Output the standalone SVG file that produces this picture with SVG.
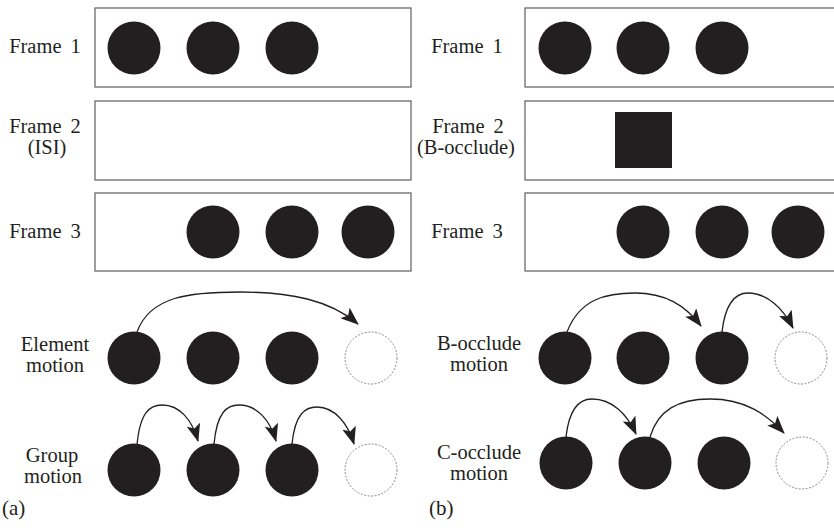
<svg xmlns="http://www.w3.org/2000/svg" width="834" height="532" viewBox="0 0 834 532">
<defs>
<style>
.frame{fill:#fff;stroke:#6a6a6a;stroke-width:1.3}
.dot{fill:#231f20}
.ghost{fill:none;stroke:#8a8a8a;stroke-width:1;stroke-dasharray:2 1.5}
.lbl{font-size:20.5px;fill:#231f20;text-anchor:middle}
.fl{word-spacing:4px}
.tag{font-size:21px;fill:#231f20}
.arc{fill:none;stroke:#231f20;stroke-width:1.3}
</style>
<marker id="ah" viewBox="0 0 18 14" refX="17" refY="7" markerWidth="18" markerHeight="14" markerUnits="userSpaceOnUse" orient="auto">
<path d="M0,0 L18,7 L0,14 L4,7 z" fill="#231f20"/>
</marker>
</defs>
<rect width="834" height="532" fill="#fff"/>
<g font-family="Liberation Serif, Times New Roman, serif">
<!-- Panel (a) -->
<g id="a-frame1">
<rect class="frame" x="95" y="8" width="316" height="79"/>
<circle class="dot" cx="134" cy="48" r="26.5"/>
<circle class="dot" cx="213" cy="48" r="26.5"/>
<circle class="dot" cx="292" cy="48" r="26.5"/>
<text class="lbl fl" x="45" y="53">Frame 1</text>
</g>
<g id="a-frame2">
<rect class="frame" x="95" y="101" width="316" height="79"/>
<text class="lbl fl" x="45" y="133">Frame 2</text>
<text class="lbl" x="47" y="154">(ISI)</text>
</g>
<g id="a-frame3">
<rect class="frame" x="95" y="193" width="316" height="78"/>
<circle class="dot" cx="213" cy="232" r="26.5"/>
<circle class="dot" cx="292" cy="232" r="26.5"/>
<circle class="dot" cx="368" cy="232" r="26.5"/>
<text class="lbl fl" x="45" y="238">Frame 3</text>
</g>
<g id="a-element">
<circle class="dot" cx="134" cy="358" r="26.5"/>
<circle class="dot" cx="213" cy="358" r="26.5"/>
<circle class="dot" cx="292" cy="358" r="26.5"/>
<circle class="ghost" cx="371" cy="358" r="26"/>
<text class="lbl" x="55" y="351">Element</text>
<text class="lbl" x="55" y="372">motion</text>
</g>
<g id="a-group">
<circle class="dot" cx="134" cy="470" r="26.5"/>
<circle class="dot" cx="213" cy="470" r="26.5"/>
<circle class="dot" cx="292" cy="470" r="26.5"/>
<circle class="ghost" cx="371" cy="470" r="26"/>
<text class="lbl" x="52" y="462">Group</text>
<text class="lbl" x="53" y="483">motion</text>
</g>
<text class="tag" x="2" y="515">(a)</text>

<!-- Panel (b) -->
<g id="b-frame1">
<rect class="frame" x="525" y="8" width="320" height="79"/>
<circle class="dot" cx="565" cy="48" r="26.5"/>
<circle class="dot" cx="643" cy="48" r="26.5"/>
<circle class="dot" cx="722" cy="48" r="26.5"/>
<text class="lbl fl" x="467" y="53">Frame 1</text>
</g>
<g id="b-frame2">
<rect class="frame" x="525" y="101" width="320" height="79"/>
<rect class="dot" x="615" y="112" width="57" height="56"/>
<text class="lbl fl" x="468" y="133">Frame 2</text>
<text class="lbl" x="466" y="154">(B-occlude)</text>
</g>
<g id="b-frame3">
<rect class="frame" x="525" y="193" width="320" height="78"/>
<circle class="dot" cx="643" cy="232" r="26.5"/>
<circle class="dot" cx="722" cy="232" r="26.5"/>
<circle class="dot" cx="798" cy="232" r="26.5"/>
<text class="lbl fl" x="467" y="238">Frame 3</text>
</g>
<g id="b-bocclude">
<circle class="dot" cx="565" cy="358" r="26.5"/>
<circle class="dot" cx="643" cy="358" r="26.5"/>
<circle class="dot" cx="722" cy="358" r="26.5"/>
<circle class="ghost" cx="801" cy="358" r="26"/>
<text class="lbl" x="479" y="350">B-occlude</text>
<text class="lbl" x="479" y="371">motion</text>
</g>
<g id="b-cocclude">
<circle class="dot" cx="566" cy="463" r="26.5"/>
<circle class="dot" cx="645" cy="463" r="26.5"/>
<circle class="dot" cx="724" cy="463" r="26.5"/>
<circle class="ghost" cx="802" cy="463" r="26"/>
<text class="lbl" x="479" y="459">C-occlude</text>
<text class="lbl" x="479" y="480">motion</text>
</g>
<text class="tag" x="429" y="515">(b)</text>
</g>
<g id="connectors">
<path class="arc" marker-end="url(#ah)" d="M137,332 C150,296 190,292 240,292 C290,292 330,300 358,324"/>
<path class="arc" marker-end="url(#ah)" d="M137,445 C140,412 150,405 162,405 C180,405 192,420 198,441"/>
<path class="arc" marker-end="url(#ah)" d="M214,444 C217,412 227,405 239,405 C257,405 270,420 276,441"/>
<path class="arc" marker-end="url(#ah)" d="M292,444 C295,414 305,407 317,407 C335,407 348,424 354,444"/>
<path class="arc" marker-end="url(#ah)" d="M567,332 C580,298 608,293 635,293 C665,293 685,305 701,326"/>
<path class="arc" marker-end="url(#ah)" d="M722,332 C725,306 734,293 748,293 C768,293 784,310 793,328"/>
<path class="arc" marker-end="url(#ah)" d="M566,437 C569,410 578,399 592,399 C612,399 627,414 636,434"/>
<path class="arc" marker-end="url(#ah)" d="M650,437 C658,410 678,399 710,399 C745,399 766,414 784,433"/>
</g>
</svg>
